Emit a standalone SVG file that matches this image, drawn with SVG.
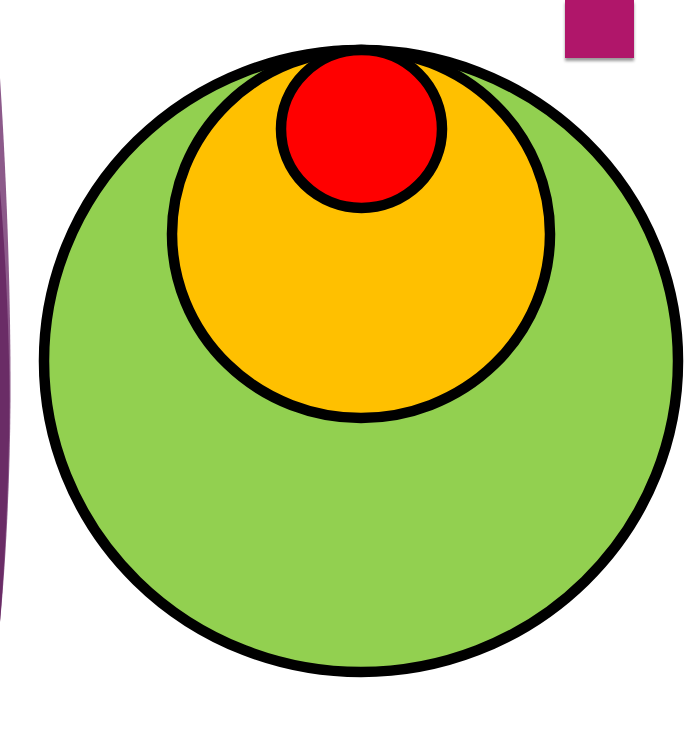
<svg xmlns="http://www.w3.org/2000/svg" width="700" height="740" viewBox="0 0 700 740">
  <style>
    .ring { stroke: #000; stroke-width: 10.5; }
  </style>
  <defs>
    <filter id="shadow" x="-20%" y="-20%" width="140%" height="150%">
      <feDropShadow dx="0" dy="3" stdDeviation="1.5" flood-color="#000" flood-opacity="0.4"/>
    </filter>
  </defs>
  <rect width="700" height="740" fill="#ffffff"/>
  <g id="left-accent">
    <path d="M0,78 C6,170 11,290 10.5,400 C10,480 6,560 0,622 Z" fill="#8c5a8a"/>
    <path d="M0,190 C5,250 9,320 9.5,400 C9,480 5,560 0,622 Z" fill="#6a2c66"/>
  </g>
  <g id="corner-square">
    <rect x="565" y="0" width="69" height="58" fill="#b0146a" filter="url(#shadow)"/>
  </g>
  <g id="outer">
    <ellipse class="ring" cx="361" cy="361" rx="317" ry="311" fill="#92d050"/>
  </g>
  <g id="middle">
    <ellipse class="ring" cx="361" cy="234" rx="189" ry="184" fill="#ffc000"/>
  </g>
  <g id="inner">
    <ellipse class="ring" cx="361.5" cy="129" rx="80.5" ry="79" fill="#ff0000"/>
  </g>
  <g id="connectors"/>
</svg>
